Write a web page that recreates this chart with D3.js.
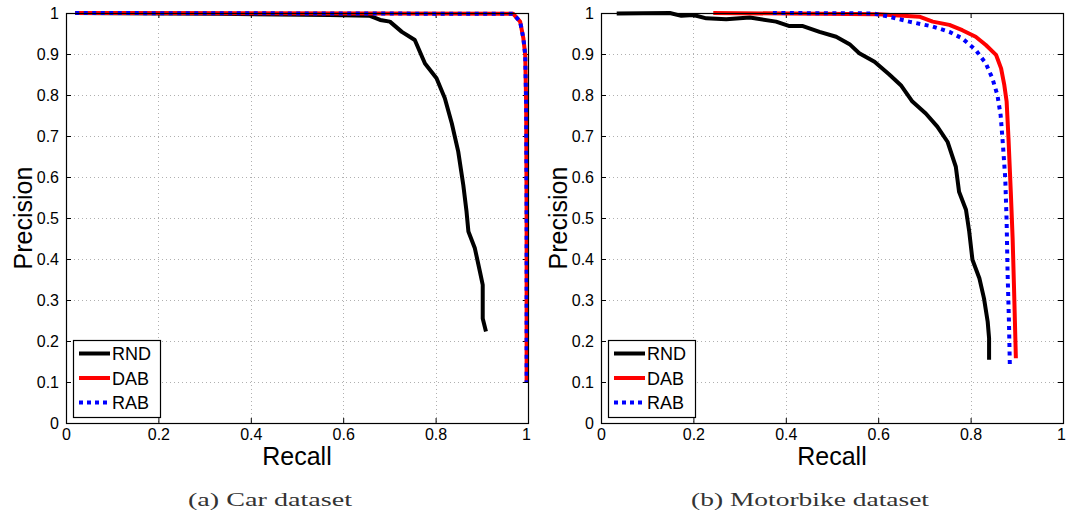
<!DOCTYPE html>
<html>
<head>
<meta charset="utf-8">
<script src="https://cdn.jsdelivr.net/npm/d3@7/dist/d3.min.js"></script>
<style>
  body { margin: 0; background: #fff; }
</style>
</head>
<body>
<svg id="chart"></svg>
<script>
// series names and tick values
var seriesNames = ["RND", "DAB", "RAB"];
var recallTicks = [0, 0.2, 0.4, 0.6, 0.8, 1];
var precisionTicks = [0, 0.1, 0.2, 0.3, 0.4, 0.5, 0.6, 0.7, 0.8, 0.9, 1];
var captions = ["(a) Car dataset", "(b) Motorbike dataset"];

// [recall, precision] pairs
var carRND = [[0.02, 1], [0.33, 0.998], [0.57, 0.995], [0.658, 0.993], [0.68, 0.983],
  [0.701, 0.979], [0.727, 0.954], [0.755, 0.934], [0.777, 0.877], [0.802, 0.841],
  [0.82, 0.792], [0.835, 0.731], [0.849, 0.662], [0.86, 0.58], [0.867, 0.515],
  [0.871, 0.467], [0.885, 0.426], [0.896, 0.369], [0.902, 0.337], [0.902, 0.255],
  [0.909, 0.223]];
var carDAB = [[0.02, 1], [0.968, 0.998], [0.983, 0.979], [0.99, 0.938], [0.994, 0.898],
  [0.996, 0.776], [0.997, 0.5], [0.997, 0.1]];
var carRAB = [[0.02, 1], [0.968, 0.998], [0.983, 0.979], [0.99, 0.938], [0.994, 0.898],
  [0.996, 0.776], [0.997, 0.5], [0.997, 0.1]];

var bikeRND = [[0.034, 0.999], [0.149, 1], [0.174, 0.993], [0.2, 0.995], [0.228, 0.987],
  [0.271, 0.985], [0.322, 0.989], [0.379, 0.979], [0.408, 0.968], [0.437, 0.968],
  [0.473, 0.954], [0.509, 0.942], [0.538, 0.924], [0.559, 0.902], [0.592, 0.881],
  [0.624, 0.85], [0.649, 0.824], [0.674, 0.784], [0.703, 0.755], [0.728, 0.723],
  [0.75, 0.686], [0.768, 0.625], [0.775, 0.564], [0.79, 0.52], [0.797, 0.467],
  [0.804, 0.398], [0.819, 0.353], [0.829, 0.304], [0.837, 0.247], [0.84, 0.207],
  [0.84, 0.154]];
var bikeDAB = [[0.243, 1], [0.6, 0.997], [0.689, 0.991], [0.718, 0.979], [0.754, 0.971],
  [0.782, 0.958], [0.811, 0.942], [0.833, 0.922], [0.855, 0.898], [0.866, 0.865],
  [0.873, 0.824], [0.878, 0.784], [0.882, 0.694], [0.887, 0.564], [0.891, 0.45],
  [0.894, 0.329], [0.898, 0.158]];
var bikeRAB = [[0.372, 1], [0.588, 0.999], [0.624, 0.991], [0.667, 0.979], [0.718, 0.967],
  [0.754, 0.954], [0.782, 0.938], [0.811, 0.91], [0.833, 0.877], [0.847, 0.841],
  [0.858, 0.8], [0.865, 0.751], [0.87, 0.678], [0.875, 0.597], [0.878, 0.491],
  [0.88, 0.369], [0.883, 0.247], [0.885, 0.137]];

var width = 1066,
    height = 513;

var colors = ["#000000", "#ff0000", "#0000ff"];
var dashes = [null, null, "4,4.5"];
var sansFont = "'Liberation Sans', Arial, Helvetica, sans-serif";
var serifFont = "'Liberation Serif', 'Times New Roman', serif";

var svg = d3.select("#chart")
    .attr("width", width)
    .attr("height", height);

var plotW = 462,
    plotH = 410,
    plotTop = 13;

var panels = [
  { left: 66, data: [carRND, carDAB, carRAB], caption: captions[0], capX: 270, capW: 164 },
  { left: 601, data: [bikeRND, bikeDAB, bikeRAB], caption: captions[1], capX: 810, capW: 238 }
];

function drawPanel(p) {
  var g = svg.append("g").attr("transform", "translate(" + p.left + "," + plotTop + ")");

  var x = d3.scaleLinear().domain([0, 1]).range([0, plotW]);
  var y = d3.scaleLinear().domain([0, 1]).range([plotH, 0]);

  // dotted grid
  var grid = g.append("g")
      .attr("stroke", "#b0b0b0")
      .attr("stroke-width", 1)
      .attr("stroke-dasharray", "1,3");
  grid.selectAll(".gx")
      .data(recallTicks.slice(1, -1))
      .enter().append("line")
      .attr("x1", function(d) { return Math.round(x(d)) + 0.5; })
      .attr("x2", function(d) { return Math.round(x(d)) + 0.5; })
      .attr("y1", 0).attr("y2", plotH);
  grid.selectAll(".gy")
      .data(precisionTicks.slice(1, -1))
      .enter().append("line")
      .attr("y1", function(d) { return Math.round(y(d)) + 0.5; })
      .attr("y2", function(d) { return Math.round(y(d)) + 0.5; })
      .attr("x1", 0).attr("x2", plotW);

  // axes, ticks pointing inward
  var xAxis = g.append("g")
      .attr("transform", "translate(0," + plotH + ")")
      .call(d3.axisBottom(x).tickValues(recallTicks).tickSizeInner(-5).tickSizeOuter(0)
        .tickPadding(6).tickFormat(String));
  var yAxis = g.append("g")
      .call(d3.axisLeft(y).tickValues(precisionTicks).tickSizeInner(-5).tickSizeOuter(0)
        .tickPadding(7).tickFormat(String));
  var xTop = g.append("g")
      .call(d3.axisTop(x).tickValues(recallTicks).tickSizeInner(-5).tickSizeOuter(0).tickFormat(""));
  var yRight = g.append("g")
      .attr("transform", "translate(" + plotW + ",0)")
      .call(d3.axisRight(y).tickValues(precisionTicks).tickSizeInner(-5).tickSizeOuter(0).tickFormat(""));

  [xAxis, yAxis, xTop, yRight].forEach(function(a) {
    a.select(".domain").remove();
    a.attr("font-family", sansFont).attr("font-size", 16);
    a.selectAll("text").attr("fill", "#000");
    a.selectAll("line").attr("stroke", "#000");
  });
  // keep the last recall label inside the page
  xAxis.selectAll("text").filter(function(d) { return d === 1; }).attr("dx", -2);

  // curves
  var line = d3.line()
      .x(function(d) { return x(d[0]); })
      .y(function(d) { return y(d[1]); });

  p.data.forEach(function(series, i) {
    g.append("path")
        .datum(series)
        .attr("d", line)
        .attr("fill", "none")
        .attr("stroke", colors[i])
        .attr("stroke-width", 4)
        .attr("stroke-linejoin", "round")
        .attr("stroke-dasharray", dashes[i]);
  });

  // frame
  g.append("rect")
      .attr("x", 0.5).attr("y", 0.5)
      .attr("width", plotW).attr("height", plotH)
      .attr("fill", "none")
      .attr("stroke", "#000")
      .attr("stroke-width", 1.2);

  // legend
  var leg = g.append("g").attr("transform", "translate(7," + (plotH - 83) + ")");
  leg.append("rect")
      .attr("x", 0.5).attr("y", 0.5)
      .attr("width", 87).attr("height", 77)
      .attr("fill", "#fff")
      .attr("stroke", "#000")
      .attr("stroke-width", 1.2);
  seriesNames.forEach(function(name, i) {
    var ly = 13.5 + i * 24.5;
    leg.append("line")
        .attr("x1", 6).attr("x2", 37)
        .attr("y1", ly).attr("y2", ly)
        .attr("stroke", colors[i])
        .attr("stroke-width", 4)
        .attr("stroke-dasharray", dashes[i] ? "4,4" : null);
    leg.append("text")
        .attr("x", 39).attr("y", ly + 6.5)
        .attr("font-family", sansFont)
        .attr("font-size", 18)
        .text(name);
  });

  // axis labels
  g.append("text")
      .attr("x", plotW / 2).attr("y", plotH + 42)
      .attr("text-anchor", "middle")
      .attr("font-family", sansFont)
      .attr("font-size", 25)
      .text("Recall");
  g.append("text")
      .attr("transform", "translate(-34," + (plotH / 2) + ") rotate(-90)")
      .attr("text-anchor", "middle")
      .attr("font-family", sansFont)
      .attr("font-size", 25)
      .text("Precision");

  // caption
  svg.append("text")
      .attr("x", p.capX - p.capW / 2).attr("y", 506)
      .attr("font-family", serifFont)
      .attr("font-size", 18)
      .attr("fill", "#333")
      .attr("textLength", p.capW)
      .attr("lengthAdjust", "spacingAndGlyphs")
      .text(p.caption);
}

panels.forEach(drawPanel);
</script>
</body>
</html>
